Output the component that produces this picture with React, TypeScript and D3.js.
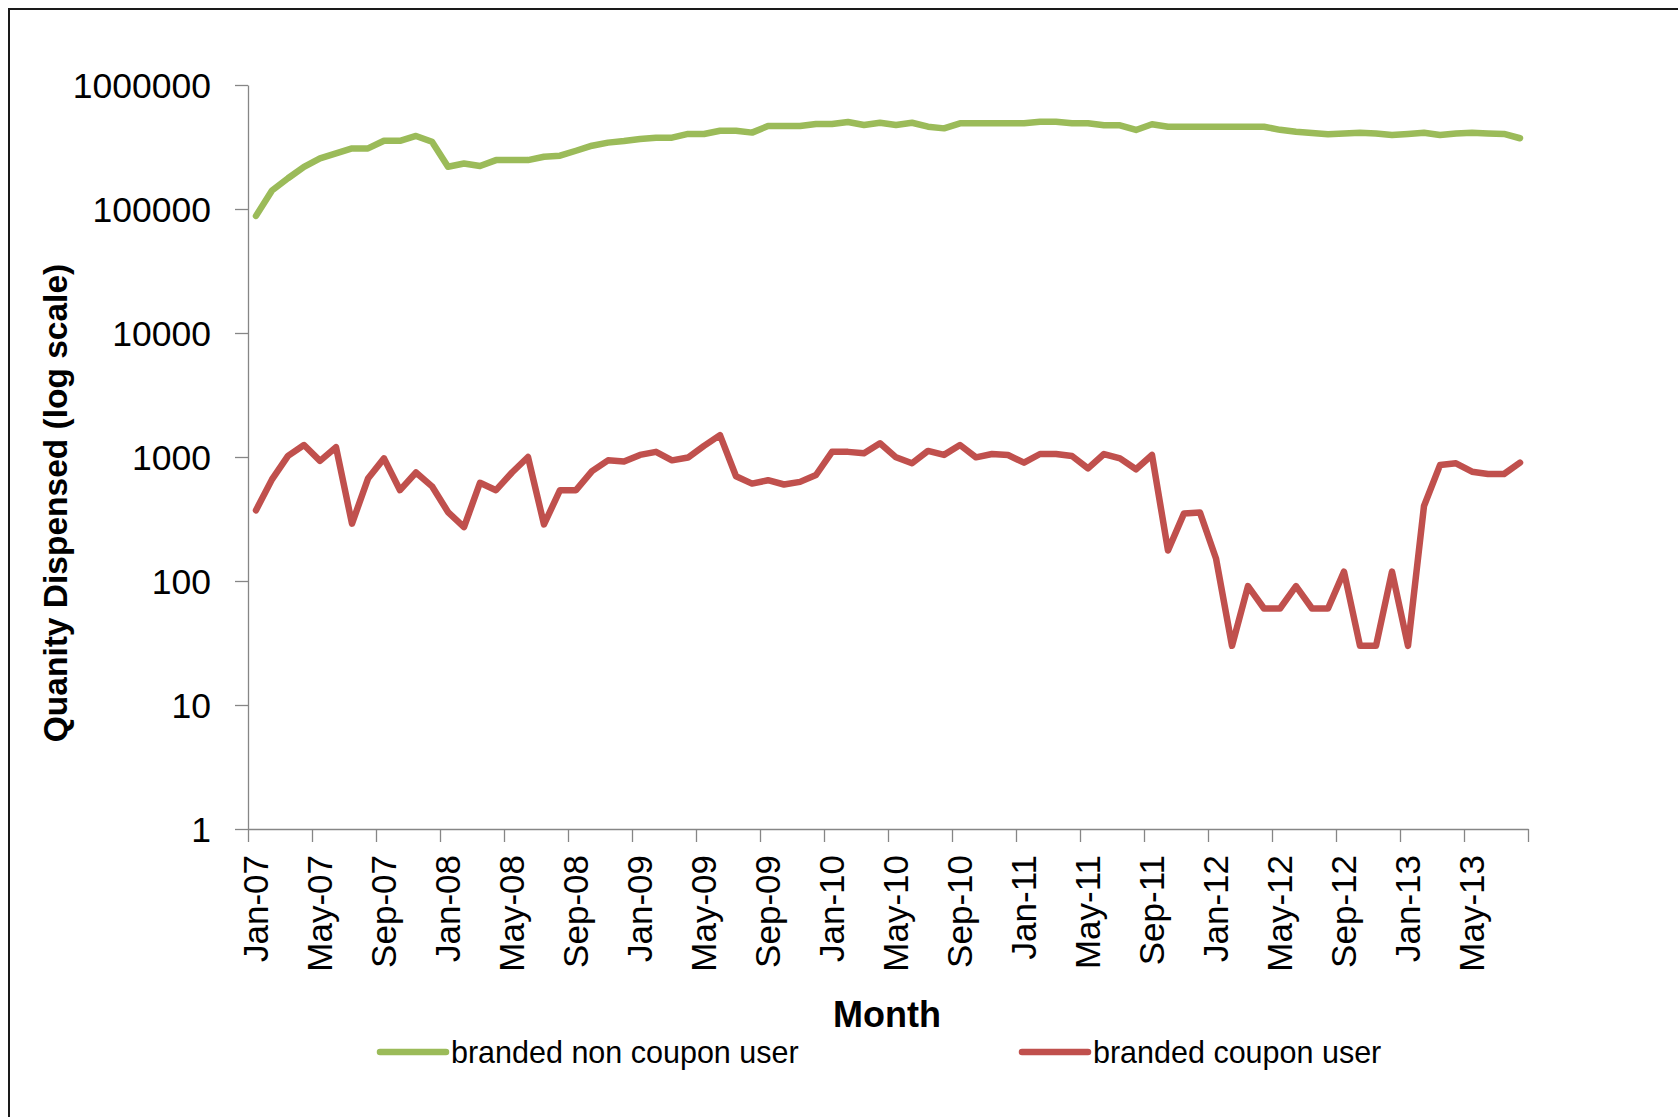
import * as d3 from "d3";
import React, { useEffect, useRef } from "react";

// month categories: Jan-07 .. Aug-13 (80 months)
const months = d3.timeMonths(new Date(2007, 0, 1), new Date(2013, 8, 1));

const tickLabels = [
	"Jan-07", "May-07", "Sep-07", "Jan-08", "May-08", "Sep-08", "Jan-09",
	"May-09", "Sep-09", "Jan-10", "May-10", "Sep-10", "Jan-11", "May-11",
	"Sep-11", "Jan-12", "May-12", "Sep-12", "Jan-13", "May-13",
];

const yTickValues = [1, 10, 100, 1000, 10000, 100000, 1000000];

const seriesNames = ["branded non coupon user", "branded coupon user"];

const nonCouponUsers = [
	88000, 141000, 177000, 219000, 256000, 281000, 308000, 308000, 355000, 355000,
	388000, 349000, 219000, 233000, 222000, 248000, 248000, 248000, 264000, 269000,
	295000, 324000, 343000, 353000, 367000, 376000, 376000, 403000, 403000, 428000,
	428000, 413000, 467000, 467000, 467000, 485000, 485000, 503000, 476000, 496000,
	476000, 496000, 461000, 447000, 491000, 491000, 491000, 491000, 491000, 506000,
	506000, 491000, 491000, 473000, 473000, 434000, 482000, 461000, 461000, 461000,
	461000, 461000, 461000, 461000, 435000, 420000, 410000, 400000, 407000, 412000,
	407000, 395000, 403000, 412000, 395000, 407000, 412000, 407000, 403000, 372000,
];

const couponUsers = [
	372, 660, 1020, 1250, 930, 1200, 290, 670, 975, 540,
	750, 580, 360, 272, 620, 540, 750, 1000, 286, 540,
	540, 770, 940, 920, 1040, 1100, 940, 990, 1230, 1500,
	700, 610, 650, 600, 630, 716, 1100, 1100, 1070, 1290,
	994, 890, 1120, 1040, 1250, 994, 1057, 1038, 900, 1057,
	1057, 1019, 810, 1057, 975, 796, 1038, 176, 351, 356,
	152, 30, 91, 60, 60, 91, 60, 60, 119, 30,
	30, 119, 30, 403, 861, 889, 761, 729, 729, 900,
];

const colors = ["#9BBB59", "#C0504D"];
const font = "'Liberation Sans', Arial, sans-serif";

const App = (): JSX.Element => {
	const svgRef = useRef(null);
	useEffect(() => {
		const width = 1678,
			height = 1117;
		const margin = { top: 85, right: 150, bottom: 288, left: 248 };
		const plotRight = width - margin.right;
		const plotBottom = height - margin.bottom;

		const svg = d3.select(svgRef.current);

		// outer frame (only top and left edges are in view)
		svg.append("path")
			.attr("d", `M9,${height} V9 H${width}`)
			.attr("fill", "none")
			.attr("stroke", "#1a1a1a")
			.attr("stroke-width", 2);

		// scales
		const x = d3
			.scaleBand<number>()
			.domain(d3.range(months.length))
			.range([margin.left, plotRight])
			.padding(0);
		const xEdge = d3.scaleLinear().domain([0, months.length]).range([margin.left, plotRight]);
		const y = d3.scaleLog().domain([1, 1000000]).range([plotBottom, margin.top]);

		// Y axis
		const yAxis = svg
			.append("g")
			.attr("transform", `translate(${margin.left},0)`)
			.call(
				d3
					.axisLeft(y)
					.tickValues(yTickValues)
					.tickFormat(d3.format("d"))
					.tickSize(13)
					.tickSizeOuter(0)
					.tickPadding(24)
			);
		yAxis.selectAll("path, line").attr("stroke", "#868686").attr("stroke-width", 1.3);
		yAxis.selectAll("text")
			.attr("font-family", font)
			.attr("font-size", 35.5)
			.attr("fill", "#000")
			.attr("dy", "0.35em");

		// X axis (ticks on month boundaries, every 4 months)
		const xAxis = svg
			.append("g")
			.attr("transform", `translate(0,${plotBottom})`)
			.call(
				d3
					.axisBottom(xEdge)
					.tickValues(d3.range(0, months.length + 1, 4))
					.tickFormat(() => "")
					.tickSize(13)
					.tickSizeOuter(0)
			);
		xAxis.selectAll("path, line").attr("stroke", "#868686").attr("stroke-width", 1.3);

		// X labels centred on their month
		svg.append("g")
			.selectAll("text")
			.data(tickLabels)
			.join("text")
			.attr("transform", (d, i) => `translate(${x(i * 4)! + x.bandwidth() / 2},855) rotate(-90)`)
			.attr("text-anchor", "end")
			.attr("dy", "0.35em")
			.attr("font-family", font)
			.attr("font-size", 35)
			.text((d) => d);

		// axis titles
		svg.append("text")
			.attr("transform", "translate(67,503) rotate(-90)")
			.attr("text-anchor", "middle")
			.attr("font-family", font)
			.attr("font-weight", "bold")
			.attr("font-size", 33.5)
			.text("Quanity Dispensed (log scale)");
		svg.append("text")
			.attr("x", 887)
			.attr("y", 1027)
			.attr("text-anchor", "middle")
			.attr("font-family", font)
			.attr("font-weight", "bold")
			.attr("font-size", 36)
			.text("Month");

		// lines
		const line = d3
			.line<number>()
			.x((d, i) => x(i)! + x.bandwidth() / 2)
			.y((d) => y(d));
		[nonCouponUsers, couponUsers].forEach((values, k) => {
			svg.append("path")
				.datum(values)
				.attr("d", line)
				.attr("fill", "none")
				.attr("stroke", colors[k])
				.attr("stroke-width", 6.5)
				.attr("stroke-linejoin", "round")
				.attr("stroke-linecap", "round");
		});

		// legend
		const legendX = [380, 1022];
		const legend = svg
			.append("g")
			.selectAll("g")
			.data(seriesNames)
			.join("g")
			.attr("transform", (d, i) => `translate(${legendX[i]},1052)`);
		legend
			.append("line")
			.attr("x1", 0)
			.attr("x2", 66)
			.attr("stroke", (d, i) => colors[i])
			.attr("stroke-width", 6.5)
			.attr("stroke-linecap", "round");
		legend
			.append("text")
			.attr("x", 71)
			.attr("y", 11)
			.attr("font-family", font)
			.attr("font-size", 30.5)
			.text((d) => d);

		return () => {
			svg.selectAll("*").remove();
		};
	}, []);

	return (
		<svg
			ref={svgRef}
			width={1678}
			height={1117}
			style={{ position: "absolute", left: 0, top: 0, background: "#fff" }}
		/>
	);
};

export default App;
